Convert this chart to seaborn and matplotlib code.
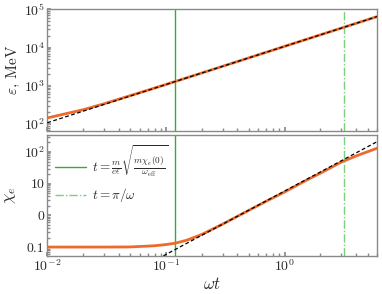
import numpy as np
import pandas as pd
import matplotlib
matplotlib.use("Agg")
import matplotlib.pyplot as plt
import seaborn as sns

# ---- data ----
wt_eps = [0.01, 0.02, 0.03, 0.05, 0.07, 0.1, 0.15, 0.2, 0.3, 0.5, 0.7, 1.0, 1.5, 2.0, 3.0, 4.0, 6.0]
eps_mev = [144, 236, 338, 553, 765, 1083, 1625, 2162, 3240, 5400, 7560, 10800, 16200, 21600, 32400, 43200, 64800]
wt_eps_asym = [0.01, 6.0]
eps_asym = [108, 64800]

wt_chi = [0.01, 0.03, 0.05, 0.08, 0.1, 0.12, 0.15, 0.2, 0.3, 0.5, 0.7, 1.0, 1.5, 2.0, 3.0, 4.0, 5.0, 6.0]
chi_e = [0.1, 0.1, 0.101, 0.11, 0.12, 0.133, 0.165, 0.25, 0.53, 1.45, 2.8, 5.5, 12.5, 21.5, 48, 75, 102, 131]
wt_chi_asym = [0.05, 6.0]
chi_asym = [0.0147, 211]

t_cross = 0.12
t_pi = np.pi

x_ticks = [0.01, 0.1, 1.0]
x_ticklabels = [r"$10^{-2}$", r"$10^{-1}$", r"$10^{0}$"]
y1_ticks = [1e2, 1e3, 1e4, 1e5]
y1_ticklabels = [r"$10^{2}$", r"$10^{3}$", r"$10^{4}$", r"$10^{5}$"]
y2_ticks = [0.1, 1, 10, 100]
y2_ticklabels = ["0.1", "0", "10", r"$10^{2}$"]

# ---- style ----
sns.set_theme(style="ticks")
plt.rcParams["font.family"] = ["serif"]
plt.rcParams["font.serif"] = ["cmr10", "DejaVu Serif"]
plt.rcParams["mathtext.fontset"] = "cm"
plt.rcParams["axes.unicode_minus"] = False

orange = "#ee6a2c"
green = "#30b030"
green_light = "#7ccf7c"
spine_col = "#8a8a8a"
text_col = "#2a2a2a"

fig = plt.figure(figsize=(3.82, 2.94), dpi=100)
ax1 = fig.add_axes([0.124, 0.554, 0.863, 0.414])
ax2 = fig.add_axes([0.124, 0.129, 0.863, 0.412])

df1 = pd.DataFrame({"wt": wt_eps, "v": eps_mev})
df1a = pd.DataFrame({"wt": wt_eps_asym, "v": eps_asym})
df2 = pd.DataFrame({"wt": wt_chi, "v": chi_e})
df2a = pd.DataFrame({"wt": wt_chi_asym, "v": chi_asym})

for ax, d, da in [(ax1, df1, df1a), (ax2, df2, df2a)]:
    ax.set_xscale("log")
    ax.set_yscale("log")
    ax.axvline(t_cross, color=green, lw=1.0, zorder=1,
               label=r"$t=\frac{m}{e\epsilon}\sqrt{\frac{m\chi_e(0)}{\omega_{\rm eff}}}$")
    ax.axvline(t_pi, color=green_light, lw=1.0, ls=(0, (6, 1.5, 1, 1.5)), zorder=1,
               label=r"$t=\pi/\omega$")
    sns.lineplot(data=d, x="wt", y="v", ax=ax, color=orange, lw=2.0, zorder=2,
                 estimator=None, sort=False, legend=False)
    sns.lineplot(data=da, x="wt", y="v", ax=ax, color="black", lw=0.9,
                 ls=(0, (3, 2)), zorder=3, estimator=None, sort=False, legend=False)
    ax.set_xlim(0.01, 6.0)
    ax.set_xticks(x_ticks)
    for s in ax.spines.values():
        s.set_color(spine_col)
        s.set_linewidth(1.0)
    ax.tick_params(which="both", direction="in", colors=spine_col,
                   labelcolor=text_col, labelsize=10, pad=2)
    ax.tick_params(which="major", length=3)
    ax.tick_params(which="minor", length=2)
    ax.set_xlabel("")
    ax.set_ylabel("")

if ax1.get_legend() is not None:
    ax1.get_legend().remove()

ax1.set_ylim(65, 1e5)
ax1.set_yticks(y1_ticks)
ax1.set_yticklabels(y1_ticklabels)
ax1.set_xticklabels([])
ax1.set_ylabel(r"$\varepsilon$, MeV", fontsize=11, color=text_col, labelpad=1)

ax2.set_ylim(0.052, 345)
ax2.set_yticks(y2_ticks)
ax2.set_yticklabels(y2_ticklabels)
ax2.set_xticklabels(x_ticklabels)
ax2.set_ylabel(r"$\chi_e$", fontsize=12, color=text_col, labelpad=4)
ax2.set_xlabel(r"$\omega t$", fontsize=12, color=text_col, labelpad=1)

handles, labels = ax2.get_legend_handles_labels()
leg = ax2.legend(handles[:2], labels[:2], loc="upper left", frameon=False,
                 fontsize=9.5, handlelength=2.3, handletextpad=0.5,
                 borderaxespad=0.2, labelspacing=0.6)
for t in leg.get_texts():
    t.set_color(text_col)

fig.savefig("out.png", dpi=100)
